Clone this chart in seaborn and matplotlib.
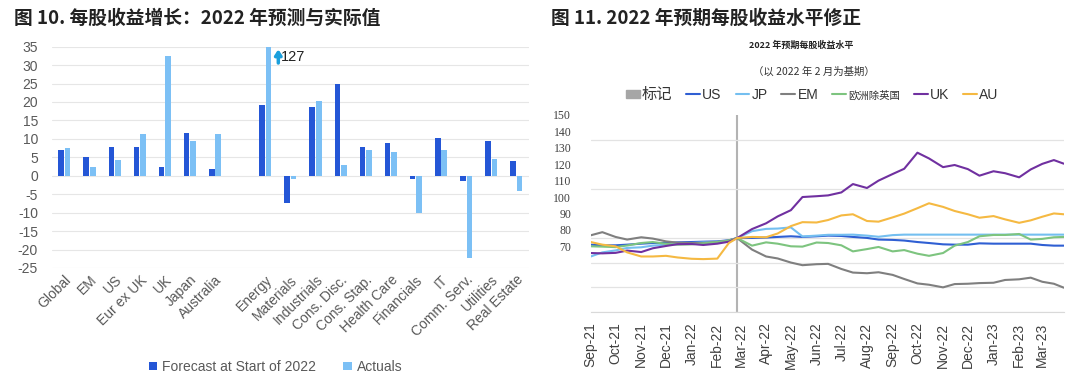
import matplotlib
matplotlib.use("Agg")
import matplotlib.pyplot as plt
import matplotlib.dates as mdates
from matplotlib.patches import Patch
from matplotlib.lines import Line2D
import pandas as pd
import seaborn as sns

# ---- left panel: EPS growth 2022, forecast vs actual (%)
regions = ["Global", "EM", "US", "Eur ex UK", "UK", "Japan", "Australia",
           "Energy", "Materials", "Industrials", "Cons. Disc.", "Cons. Stap.",
           "Health Care", "Financials", "IT", "Comm. Serv.", "Utilities", "Real Estate"]
forecast = [7.1, 5.2, 7.8, 7.8, 2.3, 11.7, 1.8,
            19.1, -7.4, 18.7, 25.0, 7.7, 9.0, -0.8, 10.3, -1.4, 9.4, 4.1]
actual = [7.4, 2.5, 4.2, 11.3, 32.5, 9.3, 11.4,
          127, -0.8, 20.3, 2.8, 7.1, 6.4, -10.2, 6.9, -22.2, 4.6, -4.1]
bar_series = ["Forecast at Start of 2022", "Actuals"]

# ---- right panel: 2022 EPS level revisions
dates = ["2021-09-01", "2021-09-15", "2021-10-01", "2021-10-15", "2021-11-01", "2021-11-15",
         "2021-12-01", "2021-12-15", "2022-01-01", "2022-01-15", "2022-02-01", "2022-02-15",
         "2022-02-25", "2022-03-15", "2022-04-01", "2022-04-15", "2022-05-01", "2022-05-15",
         "2022-06-01", "2022-06-15", "2022-07-01", "2022-07-15", "2022-08-01", "2022-08-15",
         "2022-09-01", "2022-09-15", "2022-10-01", "2022-10-15", "2022-11-01", "2022-11-15",
         "2022-12-01", "2022-12-15", "2023-01-01", "2023-01-15", "2023-02-01", "2023-02-15",
         "2023-03-01", "2023-03-15", "2023-03-27"]
base_date = "2022-02-25"
us = [71.0, 70.6, 70.6, 71.0, 71.6, 72.0, 72.0, 72.4, 72.6, 72.8, 73.0, 73.7,
      75.0,
      75.1, 75.3, 75.7, 76.1, 75.7, 76.1, 76.5, 76.3, 75.7, 75.1, 74.1, 73.9, 73.5,
      72.6, 72.0, 71.2, 71.0, 71.0, 71.8, 71.6, 71.6, 71.6, 71.6, 70.8, 70.4, 70.4]
jp = [63.8, 66.3, 67.5, 69.0, 69.4, 70.4, 71.0, 71.4, 72.0, 72.4, 72.6, 73.5,
      75.0,
      79.2, 80.6, 80.8, 81.5, 76.0, 76.5, 77.0, 77.0, 77.1, 76.5, 75.8, 76.8, 77.1,
      77.1, 77.1, 77.1, 77.1, 77.1, 77.1, 77.1, 77.1, 77.1, 77.1, 77.1, 77.1, 77.1]
em = [76.7, 78.6, 75.7, 74.1, 75.5, 74.7, 73.0, 72.2, 72.0, 72.0, 72.6, 73.5,
      75.0,
      68.0, 63.8, 62.6, 60.1, 58.5, 59.1, 59.3, 56.2, 54.0, 53.6, 54.2, 52.6, 50.1,
      47.4, 46.6, 45.0, 47.0, 47.2, 47.6, 47.8, 49.5, 49.9, 50.9, 48.4, 47.2, 44.8]
eur_ex_uk = [70.0, 69.8, 69.5, 70.5, 72.0, 72.6, 71.5, 71.0, 71.2, 71.8, 72.6, 73.5,
             75.0,
             70.4, 72.4, 71.6, 70.0, 69.8, 72.3, 72.0, 70.6, 66.9, 68.3, 69.6, 66.9, 67.7,
             65.5, 64.2, 65.9, 70.4, 72.6, 76.1, 76.9, 76.9, 77.5, 74.1, 74.5, 75.5, 75.7]
uk = [65.9, 65.7, 66.0, 67.4, 66.5, 68.8, 70.2, 71.3, 71.4, 70.8, 71.6, 72.8,
      75.0,
      80.5, 84.0, 88.2, 92.0, 100.0, 100.5, 101.0, 102.8, 107.9, 105.5, 110.0, 114.0, 117.2,
      127.0, 123.5, 118.2, 119.5, 117.0, 113.0, 115.7, 114.5, 112.0, 116.8, 120.2, 122.5, 120.3]
au = [72.6, 71.0, 70.0, 66.3, 63.8, 63.8, 64.2, 63.2, 62.4, 62.2, 62.5, 72.0,
      75.0,
      75.7, 75.5, 77.8, 82.3, 84.7, 84.5, 86.0, 88.8, 89.5, 85.4, 85.0, 87.6, 89.9,
      93.2, 96.2, 94.0, 91.5, 89.5, 87.4, 88.4, 86.4, 84.3, 85.8, 88.0, 90.0, 89.5]
line_names = ["US", "JP", "EM", "欧洲除英国", "UK", "AU"]
line_colors = ["#2f5fd3", "#74bff0", "#7f7f7f", "#7dc47f", "#7030a0", "#f5b942"]

sns.set_style("white")
plt.rcParams["font.family"] = ["Liberation Sans", "Noto Sans CJK SC", "DejaVu Sans"]
plt.rcParams["axes.unicode_minus"] = False

fig = plt.figure(figsize=(10.8, 3.79), dpi=100)
ax1 = fig.add_axes([0.048, 0.293, 0.4417, 0.584])
ax2 = fig.add_axes([0.547, 0.1768, 0.438, 0.520])

# ---------- left bar chart
df_bar = pd.DataFrame({
    "region": regions * 2,
    "series": [bar_series[0]] * len(regions) + [bar_series[1]] * len(regions),
    "value": forecast + actual,
})
order = regions[:7] + [" "] + regions[7:]
sns.barplot(data=df_bar, x="region", y="value", hue="series", order=order,
            hue_order=bar_series, palette=["#2456d6", "#7cc0f5"], saturation=1,
            width=0.52, gap=0.14, linewidth=0, errorbar=None, ax=ax1)
ax1.set_ylim(-25, 35)
ax1.set_xlim(-0.5, len(order) - 0.5)
ax1.set_yticks(range(-25, 36, 5))
ax1.grid(axis="y", color="#e6e6e6", lw=0.8)
ax1.set_axisbelow(True)
for s in ax1.spines.values():
    s.set_visible(False)
ax1.set_xlabel("")
ax1.set_ylabel("")
ax1.tick_params(axis="both", length=0, labelsize=10, labelcolor="#595959")
ax1.tick_params(axis="y", pad=10)
plt.setp(ax1.get_xticklabels(), rotation=45, ha="right", rotation_mode="anchor")

handles, labels = ax1.get_legend_handles_labels()
ax1.get_legend().remove()
fig.legend(handles, labels, loc="center", bbox_to_anchor=(0.255, 0.032), ncol=2,
           frameon=False, handlelength=0.6, handleheight=0.6, handletextpad=0.35,
           columnspacing=2.0, fontsize=10, labelcolor="#595959")

# capped Energy bar
ei = order.index("Energy")
ax1.annotate("", xy=(ei + 0.52, 35.0), xytext=(ei + 0.52, 29.8),
             arrowprops=dict(arrowstyle="-|>,head_width=0.2,head_length=0.3",
                             lw=2.5, color="#1a9fdc"))
ax1.text(ei + 0.64, 32.3, f"{actual[regions.index('Energy')]:.0f}", ha="left",
         va="center", fontsize=10.5, color="#222222")

# ---------- right line chart
df_line = pd.DataFrame({"date": pd.to_datetime(dates), "US": us, "JP": jp, "EM": em,
                        "欧洲除英国": eur_ex_uk, "UK": uk, "AU": au})
df_long = df_line.melt(id_vars="date", var_name="series", value_name="value")
sns.lineplot(data=df_long, x="date", y="value", hue="series", hue_order=line_names,
             palette=line_colors, lw=1.5, legend=False, ax=ax2)
ax2.axvline(pd.Timestamp(base_date), color="#b3b3b3", lw=1.5, zorder=0)
ax2.set_xlim(pd.Timestamp(dates[0]), pd.Timestamp(dates[-1]))
ax2.set_ylim(30, 150)
ax2.set_yticks(range(70, 151, 10))
ax2.set_yticks(range(30, 151, 15), minor=True)
ax2.yaxis.set_minor_formatter(plt.NullFormatter())
ax2.grid(which="minor", axis="y", color="#e3e3e3", lw=0.9)
ax2.grid(which="major", visible=False)
ax2.set_axisbelow(True)
ax2.tick_params(axis="y", which="both", length=0, pad=14)
for lab in ax2.get_yticklabels():
    lab.set_family("Liberation Serif")
    lab.set_fontsize(8.5)
    lab.set_color("#404040")
ax2.xaxis.set_major_locator(mdates.MonthLocator())
ax2.xaxis.set_major_formatter(mdates.DateFormatter("%b-%y"))
ax2.tick_params(axis="x", direction="out", length=4, color="#d0d0d0",
                labelsize=10, labelcolor="#404040", rotation=90)
for side in ["left", "top", "right"]:
    ax2.spines[side].set_visible(False)
ax2.spines["bottom"].set_color("#d9d9d9")
ax2.set_xlabel("")
ax2.set_ylabel("")

leg_handles = [Patch(color="#a6a6a6")] + [Line2D([], [], color=c, lw=1.5) for c in line_colors]
leg = fig.legend(leg_handles, ["标记"] + line_names, loc="center",
                 bbox_to_anchor=(0.752, 0.750), ncol=7, frameon=False,
                 handlelength=1.0, handleheight=0.55, handletextpad=0.15,
                 columnspacing=1.0, fontsize=10, labelcolor="#333333")
leg.get_texts()[0].set_fontsize(11)
leg.get_texts()[4].set_fontsize(7.5)

fig.text(801 / 1080, 1 - 45.6 / 379, "2022 年预期每股收益水平", ha="center", va="center",
         fontsize=6.5, fontweight="bold", color="#222222",
         family=["Noto Sans CJK SC", "DejaVu Sans"])
fig.text(814 / 1080, 1 - 71.5 / 379, "（以 2022 年 2 月为基期）", ha="center", va="center",
         fontsize=7.5, color="#333333", family=["Noto Sans CJK SC", "DejaVu Sans"])

# ---------- titles
fig.text(14 / 1080, 1 - 18 / 379, "图 10. 每股收益增长：2022 年预测与实际值", ha="left",
         va="center", fontsize=13.5, fontweight="bold", color="#222222",
         family=["Noto Sans CJK SC", "DejaVu Sans"])
fig.text(551 / 1080, 1 - 18 / 379, "图 11. 2022 年预期每股收益水平修正", ha="left",
         va="center", fontsize=13.5, fontweight="bold", color="#222222",
         family=["Noto Sans CJK SC", "DejaVu Sans"])

fig.savefig("out.png", dpi=100)
